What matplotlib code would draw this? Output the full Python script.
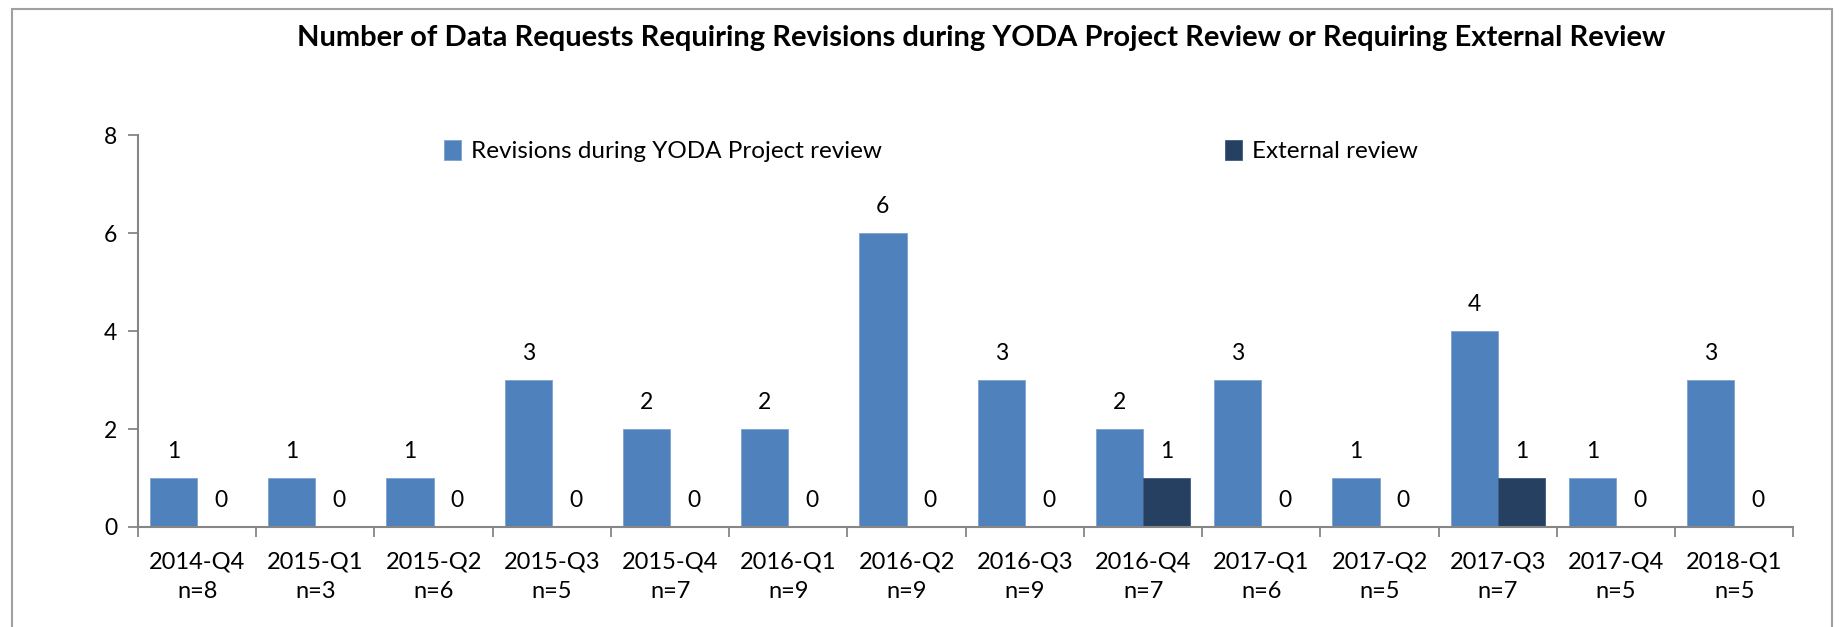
import matplotlib
matplotlib.use("Agg")
import matplotlib.pyplot as plt
import numpy as np
from matplotlib.patches import Rectangle

plt.rcParams["font.family"] = ["Lato", "DejaVu Sans"]

quarters = ["2014-Q4", "2015-Q1", "2015-Q2", "2015-Q3", "2015-Q4", "2016-Q1", "2016-Q2",
            "2016-Q3", "2016-Q4", "2017-Q1", "2017-Q2", "2017-Q3", "2017-Q4", "2018-Q1"]
n_requests = [8, 3, 6, 5, 7, 9, 9, 9, 7, 6, 5, 7, 5, 5]
revisions = [1, 1, 1, 3, 2, 2, 6, 3, 2, 3, 1, 4, 1, 3]
external = [0, 0, 0, 0, 0, 0, 0, 0, 1, 0, 0, 1, 0, 0]

BLUE = "#4F81BD"
DARK = "#254061"
GREY = "#868686"
FS = 16.5

fig = plt.figure(figsize=(18.47, 6.27), dpi=100)
ax = fig.add_axes([0.0747, 0.1595, 0.8963, 0.6245])

# chart-area border (bottom edge cropped off in the original)
fig.patches.append(Rectangle((12 / 1847, -0.05), (1832 - 12) / 1847, 1.05 - 9 / 627,
                             transform=fig.transFigure, fill=False,
                             edgecolor="#a0a0a0", linewidth=1.5))

x = np.arange(len(quarters))
w = 0.4
b1 = ax.bar(x - w / 2, revisions, w, color=BLUE, edgecolor="#7ea3d1", linewidth=0.6,
            label="Revisions during YODA Project review")
b2 = ax.bar(x + w / 2, external, w, color=DARK, edgecolor="#3d5a80", linewidth=0.6,
            label="External review")

for bars, vals in ((b1, revisions), (b2, external)):
    for r, v in zip(bars, vals):
        ax.annotate(str(v), (r.get_x() + r.get_width() / 2, v), xytext=(0, 19),
                    textcoords="offset points", ha="center", va="center", fontsize=FS)

ax.set_xlim(-0.5, len(quarters) - 0.5)
ax.set_ylim(0, 8)
ax.set_yticks([0, 2, 4, 6, 8])
ax.set_xticks(x)
ax.set_xticklabels([f"{q}\nn={n}" for q, n in zip(quarters, n_requests)],
                   fontsize=17, linespacing=1.45)
ax.set_xticks(np.arange(len(quarters) + 1) - 0.5, minor=True)
ax.tick_params(axis="x", which="major", length=0, pad=18)
ax.tick_params(axis="x", which="minor", length=7, width=1.3, color=GREY, direction="out")
ax.tick_params(axis="y", length=7, width=1.3, color=GREY, labelsize=FS, pad=8)

for s in ("top", "right"):
    ax.spines[s].set_visible(False)
for s in ("left", "bottom"):
    ax.spines[s].set_color(GREY)
    ax.spines[s].set_linewidth(1.5)

fig.text(0.531, 0.94, "Number of Data Requests Requiring Revisions during YODA Project Review "
         "or Requiring External Review", ha="center", va="center", fontsize=21,
         fontweight="bold")

ax.legend(loc="center", bbox_to_anchor=(0.479, 0.960), ncol=2, frameon=False, fontsize=17.5,
          handlelength=0.7, handleheight=0.9, handletextpad=0.4, columnspacing=14.1)

fig.savefig("out.png", dpi=100)
